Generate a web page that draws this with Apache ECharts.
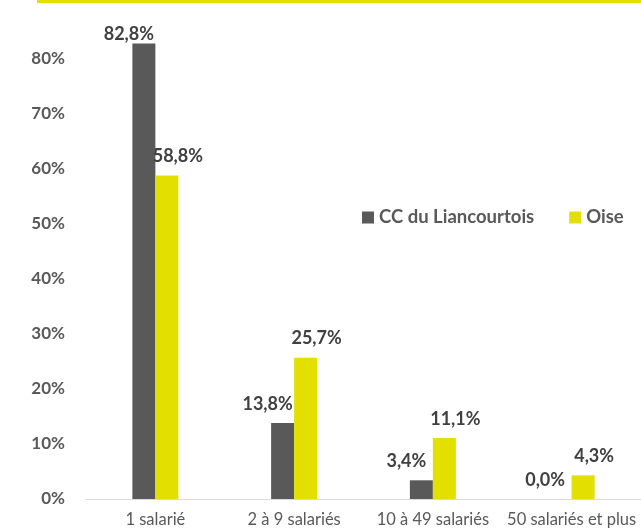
<!DOCTYPE html>
<html><head><meta charset="utf-8">
<script src="https://cdn.jsdelivr.net/npm/echarts@6/dist/echarts.min.js"></script>
<style>html,body{margin:0;padding:0;background:#fff}#c{width:641px;height:532px}</style>
</head><body><div id="c"></div>
<script>
const categories = ['1 salarié', '2 à 9 salariés', '10 à 49 salariés', '50 salariés et plus'];
const seriesNames = ['CC du Liancourtois', 'Oise'];
const ccValues = [82.8, 13.8, 3.4, 0.0];
const oiseValues = [58.8, 25.7, 11.1, 4.3];
const yTicks = [0, 10, 20, 30, 40, 50, 60, 70, 80];

const FONT = 'Lato';
const fmt = v => v.toFixed(1).replace('.', ',') + '%';
const chart = echarts.init(document.getElementById('c'));

function items(vals, dx) {
  return vals.map(v => ({
    value: v,
    label: { offset: v > 80 ? [dx, 10] : [dx, 0] }
  }));
}

const labelStyle = {
  show: true, position: 'top', distance: 10,
  fontFamily: FONT, fontWeight: 'bold', fontSize: 18, color: '#404040',
  formatter: p => fmt(p.value)
};

chart.setOption({
  animation: false,
  textStyle: { fontFamily: FONT },
  graphic: [{ type: 'rect', shape: { x: 37, y: 0, width: 604, height: 3 }, style: { fill: '#E3DF00' } }],
  legend: {
    data: seriesNames, left: 357, top: 203, itemWidth: 12, itemHeight: 12, itemGap: 35,
    textStyle: { fontFamily: FONT, fontWeight: 'bold', fontSize: 18.5, color: '#595959' },
    icon: 'rect'
  },
  grid: { left: 86, right: -3, top: 4, bottom: 33 },
  xAxis: {
    type: 'category', data: categories,
    axisLine: { lineStyle: { color: '#D9D9D9', width: 1 } },
    axisTick: { show: false },
    axisLabel: { fontFamily: FONT, fontSize: 16.5, color: '#595959', margin: 12, interval: 0 }
  },
  yAxis: {
    type: 'value', min: 0, max: 90, interval: 10,
    splitLine: { show: false }, axisLine: { show: false }, axisTick: { show: false },
    axisLabel: {
      fontFamily: FONT, fontWeight: 'bold', fontSize: 17, color: '#595959', margin: 21,
      formatter: v => yTicks.includes(v) ? v + '%' : ''
    }
  },
  series: [
    { name: seriesNames[0], type: 'bar', data: items(ccValues, -15), barWidth: 23, barGap: '0%',
      itemStyle: { color: '#595959' }, label: labelStyle },
    { name: seriesNames[1], type: 'bar', data: items(oiseValues, 11), barWidth: 23,
      itemStyle: { color: '#E3DF00' }, label: labelStyle }
  ]
});
</script></body></html>
